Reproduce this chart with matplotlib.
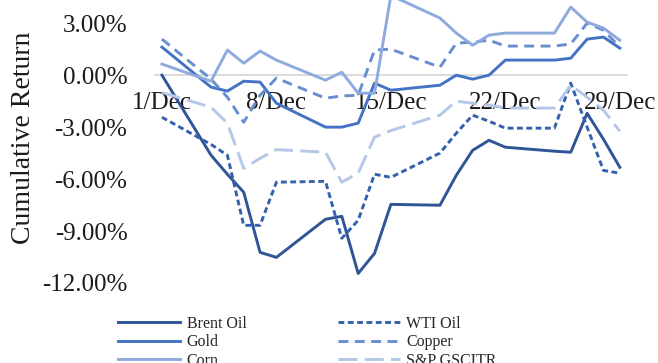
import matplotlib
matplotlib.use("Agg")
import matplotlib.pyplot as plt

# trading days in December (day of month)
days = [1, 4, 5, 6, 7, 8, 11, 12, 13, 14, 15, 18, 19, 20, 21, 22, 25, 26, 27, 28, 29]

# cumulative returns in percent
brent = [0.00, -4.62, -5.72, -6.76, -10.23, -10.52, -8.32, -8.15, -11.45, -10.29, -7.46,
         -7.51, -5.78, -4.34, -3.76, -4.16, -4.39, -4.45, -2.20, -3.70, -5.32]
wti = [-2.43, -4.00, -4.62, -8.67, -8.67, -6.18, -6.13, -9.42, -8.38, -5.72, -5.90,
       -4.50, -3.35, -2.31, -2.66, -3.06, -3.06, -0.46, -3.00, -5.50, -5.66]
gold = [1.62, -0.69, -0.92, -0.35, -0.40, -1.62, -3.00, -3.00, -2.77, -0.46, -0.87,
        -0.58, 0.00, -0.23, 0.00, 0.87, 0.87, 0.98, 2.08, 2.20, 1.56]
copper = [2.08, -0.23, -1.27, -2.72, -1.16, -0.17, -1.33, -1.20, -1.16, 1.45, 1.50,
          0.46, 1.85, 1.90, 2.02, 1.68, 1.68, 1.80, 3.00, 2.60, 1.62]
corn = [0.64, -0.35, 1.45, 0.69, 1.39, 0.87, -0.29, 0.17, -1.04, -1.04, 4.60,
        3.30, 2.43, 1.73, 2.31, 2.43, 2.43, 3.93, 3.06, 2.72, 2.02]
sp_gsci = [-1.00, -1.85, -2.77, -5.38, -4.80, -4.30, -4.45, -6.18, -5.66, -3.58, -3.20,
           -2.31, -1.50, -1.62, -1.73, -1.90, -1.90, -0.58, -1.27, -2.02, -3.24]

xtick_days = [1, 8, 15, 22, 29]
xtick_labels = ["1/Dec", "8/Dec", "15/Dec", "22/Dec", "29/Dec"]
ytick_vals = [3, 0, -3, -6, -9, -12]

plt.rcParams['font.family'] = ['Liberation Serif', 'DejaVu Serif']

fig = plt.figure(figsize=(6.58, 3.63), dpi=100)
ax = fig.add_axes([0.2337, 0.2204, 0.7207, 0.7796])

ax.axhline(0, color='#D9D9D9', lw=1.3, zorder=1)

lw = 2.1
l_brent, = ax.plot(days, brent, color='#2F5597', lw=lw, label='Brent Oil')
l_wti, = ax.plot(days, wti, color='#3561AC', lw=lw, dashes=(2, 1.2), label='WTI Oil')
l_gold, = ax.plot(days, gold, color='#4472C4', lw=lw, label='Gold')
l_copper, = ax.plot(days, copper, color='#698ED0', lw=lw, dashes=(3.4, 2.2), label='Copper')
l_corn, = ax.plot(days, corn, color='#8FAADC', lw=lw, label='Corn')
l_sp, = ax.plot(days, sp_gsci, color='#B4C7E7', lw=lw, dashes=(6.5, 2.5), label='S&P GSCITR')

ax.set_xlim(0.5, 29.5)
ax.set_ylim(-12.0, 4.34)

ax.set_xticks(xtick_days)
ax.set_xticklabels(xtick_labels)
ax.set_yticks(ytick_vals)
ax.set_yticklabels(["%.2f%%" % v for v in ytick_vals])

for sp in ax.spines.values():
    sp.set_visible(False)
ax.spines['bottom'].set_position(('data', 0))
ax.tick_params(axis='both', length=0, labelsize=18, colors='#1a1a1a')
ax.tick_params(axis='x', pad=12)
ax.tick_params(axis='y', pad=19)

fig.text(24 / 658, 1 - 138 / 363, "Cumulative Return", rotation=90,
         ha='center', va='center', fontsize=20, color='#1a1a1a')

# legend: two columns, bottom row runs off the canvas
handles = [l_brent, l_gold, l_corn, l_wti, l_copper, l_sp]
fig.legend(handles, [h.get_label() for h in handles], ncol=2, loc='upper left',
           bbox_to_anchor=(0.1793, 0.1294), frameon=False, fontsize=11.5,
           borderpad=0, borderaxespad=0, labelspacing=0.14, handlelength=3.9,
           handletextpad=0.4, columnspacing=5.7, labelcolor='#262626')

fig.savefig("out.png", dpi=100)
